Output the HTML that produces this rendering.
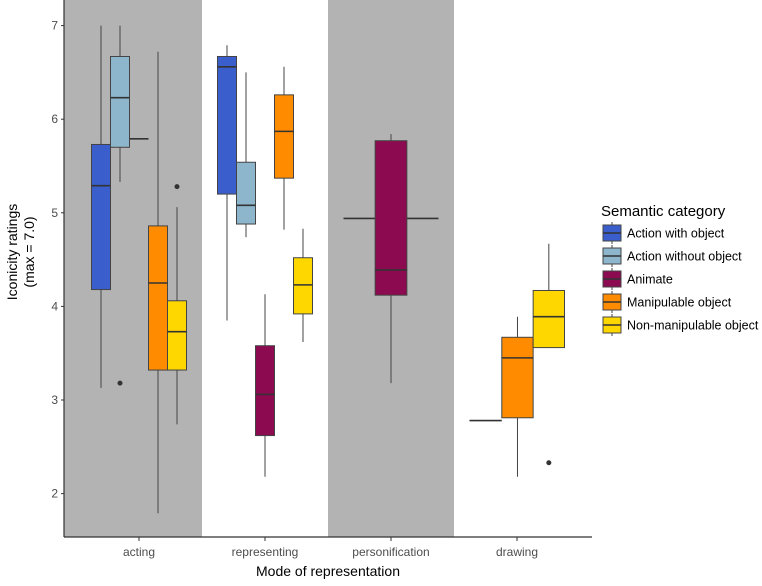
<!DOCTYPE html>
<html><head><meta charset="utf-8"><style>
body{margin:0;background:#fff;}
svg text{font-family:"Liberation Sans",Arial,sans-serif;}
</style></head><body>
<svg id="chart" width="762" height="581" viewBox="0 0 762 581" xmlns="http://www.w3.org/2000/svg">
<g id="bands"></g>
<g id="boxes"></g>
<g id="axes"></g>
<g id="legend"></g>
</svg>
<script>
const modes = ["acting","representing","personification","drawing"];
const categories = ["Action with object","Action without object","Animate","Manipulable object","Non-manipulable object"];
const colors = ["#3a5fcd","#8db6cd","#8b0a50","#ff8c00","#ffd700"];
const yTicks = [2,3,4,5,6,7];
// box stats: [modeIndex, categoryIndex (-1 = degenerate), lowerWhisker, q1, median, q3, upperWhisker]
const boxStats = [
 [0,0,3.13,4.18,5.29,5.73,7.0],
 [0,1,5.33,5.70,6.23,6.67,7.0],
 [0,-1,5.79,5.79,5.79,5.79,5.79],
 [0,3,1.79,3.32,4.25,4.86,6.72],
 [0,4,2.74,3.32,3.73,4.06,5.06],
 [1,0,3.85,5.20,6.56,6.67,6.79],
 [1,1,4.74,4.88,5.08,5.54,6.50],
 [1,2,2.18,2.62,3.06,3.58,4.13],
 [1,3,4.82,5.37,5.87,6.26,6.56],
 [1,4,3.62,3.92,4.23,4.52,4.83],
 [2,-1,4.94,4.94,4.94,4.94,4.94],
 [2,2,3.18,4.12,4.39,5.77,5.84],
 [3,-1,2.78,2.78,2.78,2.78,2.78],
 [3,3,2.18,2.81,3.45,3.67,3.89],
 [3,4,3.56,3.56,3.89,4.17,4.67]
];
// outliers: [modeIndex, categoryIndex, value]
const outliers = [[0,1,3.18],[0,4,5.28],[3,4,2.33]];
// dodge slot extents within group (layout, fraction of group width)
const slots = [
 [[-0.5,-0.3],[-0.3,-0.1],[-0.1,0.1],[0.1,0.3],[0.3,0.5]],
 [[-0.5,-0.3],[-0.3,-0.1],[-0.1,0.1],[0.1,0.3],[0.3,0.5]],
 [[-0.5,0.5],null,[-0.167,0.167],null,null],
 [[-0.5,-0.16],null,null,[-0.16,0.17],[0.17,0.5]]
];
const degenerateSlot=[2,0,0,0];
const NS="http://www.w3.org/2000/svg";
const L=64,R=592,T=0,B=537,step=126,first=139,groupW=95;
const y=v=>25.6+(7-v)*93.6;
const xc=i=>first+step*i;
function mk(tag,attrs,parent){const e=document.createElementNS(NS,tag);for(const k in attrs)e.setAttribute(k,attrs[k]);parent.appendChild(e);return e;}
const bands=document.getElementById('bands');
modes.forEach((m,i)=>{if(i%2===0){
 const x0=i===0?L:xc(i)-step/2, x1=i===modes.length-1?R:xc(i)+step/2;
 const r=mk('rect',{x:x0,y:T,width:x1-x0,height:B-T,fill:'#b3b3b3'},bands);

}});
const bx=document.getElementById('boxes');
boxStats.forEach(s=>{
 const [mi,ci,lw,q1,md,q3,uw]=s;
 const sl=ci<0?slots[mi][degenerateSlot[mi]]:slots[mi][ci];
 const x0=xc(mi)+sl[0]*groupW,x1=xc(mi)+sl[1]*groupW,xm=(x0+x1)/2;
 const g=mk('g',{},bx);
 
 
 if(ci<0){mk('line',{x1:x0,x2:x1,y1:y(md),y2:y(md),stroke:'#333',"stroke-width":1.6},g);return;}
 mk('line',{x1:xm,x2:xm,y1:y(uw),y2:y(lw),stroke:'#444',"stroke-width":1},g);
 mk('rect',{x:x0,y:y(q3),width:x1-x0,height:Math.max(0.5,y(q1)-y(q3)),fill:colors[ci],stroke:'#444',"stroke-width":1},g);
 mk('line',{x1:x0,x2:x1,y1:y(md),y2:y(md),stroke:'#333',"stroke-width":1.6},g);
});
outliers.forEach(o=>{const sl=slots[o[0]][o[1]];const c=mk('circle',{cx:xc(o[0])+(sl[0]+sl[1])/2*groupW,cy:y(o[2]),r:2.5,fill:'#333'},bx);

});
const ax=document.getElementById('axes');
mk('line',{x1:L,x2:L,y1:T,y2:B,stroke:'#333',"stroke-width":1.2},ax);
mk('line',{x1:L,x2:R,y1:B,y2:B,stroke:'#333',"stroke-width":1.2},ax);
yTicks.forEach(t=>{mk('line',{x1:L-3,x2:L,y1:y(t),y2:y(t),stroke:'#333'},ax);
 const tx=mk('text',{x:L-6,y:y(t)+4,"text-anchor":'end',"font-size":12,fill:'#4d4d4d'},ax);tx.textContent=t;
 
 });
modes.forEach((m,i)=>{mk('line',{x1:xc(i),x2:xc(i),y1:B,y2:B+4,stroke:'#333'},ax);
 const tx=mk('text',{x:xc(i),y:B+19,"text-anchor":'middle',"font-size":12,fill:'#4d4d4d'},ax);tx.textContent=m;
 
 });
const xt=mk('text',{x:(L+R)/2,y:576,"text-anchor":'middle',"font-size":14,fill:'#000'},ax);xt.textContent='Mode of representation';


const yt=mk('text',{transform:'translate(17,252) rotate(-90)',"text-anchor":'middle',"font-size":14,fill:'#000'},ax);


const t1=mk('tspan',{x:0,dy:0},yt);t1.textContent='Iconicity ratings';
const t2=mk('tspan',{x:0,dy:17},yt);t2.textContent='(max = 7.0)';
const lg=document.getElementById('legend');
const lt=mk('text',{x:601,y:216,"font-size":15,fill:'#000'},lg);lt.textContent='Semantic category';


categories.forEach((c,i)=>{const cy=233+i*23;const g=mk('g',{},lg);
 
 
 mk('line',{x1:612,x2:612,y1:cy-11,y2:cy+11,stroke:'#444'},g);
 mk('rect',{x:603,y:cy-8,width:18,height:16,fill:colors[i],stroke:'#444'},g);
 mk('line',{x1:603,x2:621,y1:cy,y2:cy,stroke:'#333',"stroke-width":1.4},g);
 const t=mk('text',{x:627,y:cy+4.5,"font-size":12.5,fill:'#000'},g);t.textContent=c;});
</script>
</body></html>
